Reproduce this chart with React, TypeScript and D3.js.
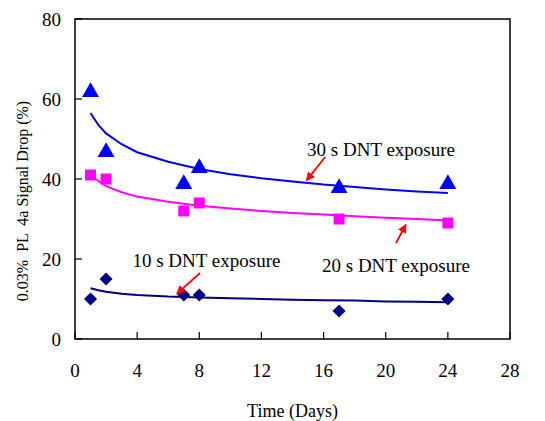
import React from "react";
import * as d3 from "d3";

const WIDTH = 545;
const HEIGHT = 421;
const MARGIN = { top: 19, right: 35, bottom: 82, left: 75 };

const days = [1, 2, 7, 8, 17, 24];
const drop30 = [62, 47, 39, 43, 38, 39];
const drop20 = [41, 40, 32, 34, 30, 29];
const drop10 = [10, 15, 11, 11, 7, 10];

// trend lines
const trendDays = [1, 1.5, 2, 3, 4, 6, 8, 10, 12, 14, 16, 18, 20, 22, 24];
const trend30 = [56.5, 53.5, 51.4, 48.7, 46.7, 44.3, 42.5, 41.2, 40.2, 39.4, 38.6, 38.0, 37.4, 36.9, 36.5];
const trend20 = [41, 39.5, 38.2, 36.7, 35.6, 34.3, 33.3, 32.6, 32.0, 31.5, 31.1, 30.7, 30.3, 30.0, 29.6];
const trend10 = [12.7, 12.2, 11.8, 11.3, 11.0, 10.6, 10.4, 10.2, 10.0, 9.8, 9.7, 9.6, 9.4, 9.3, 9.2];

const xTicks = [0, 4, 8, 12, 16, 20, 24, 28];
const yTicks = [0, 20, 40, 60, 80];

const labels = [
  { text: "30 s DNT exposure", x: 19.7, y: 47.5, tail: [16.1, 45.5], head: [14.9, 39.6] },
  { text: "20 s DNT exposure", x: 20.66, y: 18.5, tail: [20.66, 24.0], head: [21.3, 28.6] },
  { text: "10 s DNT exposure", x: 8.46, y: 19.75, tail: [8.05, 16.5], head: [6.55, 11.3] },
];

const FONT = '"Liberation Serif", Tinos, "Times New Roman", "DejaVu Serif", serif';

export default function App() {
  const bw = WIDTH - MARGIN.left - MARGIN.right;
  const bh = HEIGHT - MARGIN.top - MARGIN.bottom;
  const x = d3.scaleLinear().domain([0, 28]).range([0, bw]);
  const y = d3.scaleLinear().domain([0, 80]).range([bh, 0]);

  const line = (vals: number[]) =>
    d3
      .line<number>()
      .x((_, i) => x(trendDays[i]))
      .y((d) => y(d))(vals) || "";

  const tri = d3.symbol().type(d3.symbolTriangle).size(125)() || "";
  const sq = d3.symbol().type(d3.symbolSquare).size(120)() || "";
  const dia = d3.symbol().type(d3.symbolSquare).size(85)() || "";

  const txt = { fontFamily: FONT };

  return (
    <svg
      width={WIDTH}
      height={HEIGHT}
      style={{ position: "absolute", left: 0, top: 0, background: "#fff", fontFamily: FONT }}
    >
      <defs>
        <marker id="arr" viewBox="0 0 10 10" refX="9" refY="5" markerWidth="5" markerHeight="5" orient="auto" markerUnits="strokeWidth">
          <path d="M0,0 L10,5 L0,10 z" fill="#ff0000" />
        </marker>
      </defs>
      <g transform={`translate(${MARGIN.left},${MARGIN.top})`}>
        <rect x={0} y={0} width={bw} height={bh} fill="none" stroke="#000" strokeWidth={1.5} />
        {xTicks.map((t) => (
          <g key={"x" + t}>
            <line x1={x(t)} x2={x(t)} y1={bh} y2={bh - 7} stroke="#000" strokeWidth={1.2} />
            <text x={x(t)} y={bh + 38} textAnchor="middle" fontSize={19} style={txt}>
              {t}
            </text>
          </g>
        ))}
        {yTicks.map((t) => (
          <g key={"y" + t}>
            <line x1={0} x2={7} y1={y(t)} y2={y(t)} stroke="#000" strokeWidth={1.2} />
            <text x={-14} y={y(t)} dy="0.35em" textAnchor="end" fontSize={19} style={txt}>
              {t}
            </text>
          </g>
        ))}

        <path d={line(trend30)} fill="none" stroke="#0000ff" strokeWidth={2} />
        <path d={line(trend20)} fill="none" stroke="#ff00ff" strokeWidth={2} />
        <path d={line(trend10)} fill="none" stroke="#000080" strokeWidth={2} />

        {days.map((d, i) => (
          <path key={"t" + i} d={tri} transform={`translate(${x(d)},${y(drop30[i]) + 1})`} fill="#0000ff" />
        ))}
        {days.map((d, i) => (
          <path key={"s" + i} d={sq} transform={`translate(${x(d)},${y(drop20[i])})`} fill="#ff00ff" />
        ))}
        {days.map((d, i) => (
          <path key={"d" + i} d={dia} transform={`translate(${x(d)},${y(drop10[i])}) rotate(45)`} fill="#000080" />
        ))}

        {labels.map((l) => (
          <g key={l.text}>
            <text x={x(l.x)} y={y(l.y)} dy="0.35em" textAnchor="middle" fontSize={19} style={txt}>
              {l.text}
            </text>
            <line
              x1={x(l.tail[0])}
              y1={y(l.tail[1])}
              x2={x(l.head[0])}
              y2={y(l.head[1])}
              stroke="#ff0000"
              strokeWidth={1.8}
              markerEnd="url(#arr)"
            />
          </g>
        ))}
      </g>
      <text x={MARGIN.left + bw / 2} y={411} dy="0.35em" textAnchor="middle" fontSize={18} style={txt}>
        Time (Days)
      </text>
      <text
        transform={`translate(22,${MARGIN.top + 182}) rotate(-90)`}
        textAnchor="middle"
        dy="0.35em"
        fontSize={16}
        style={{ ...txt, whiteSpace: "pre" }}
      >
        {"0.03%  PL  4a Signal Drop (%)"}
      </text>
    </svg>
  );
}
